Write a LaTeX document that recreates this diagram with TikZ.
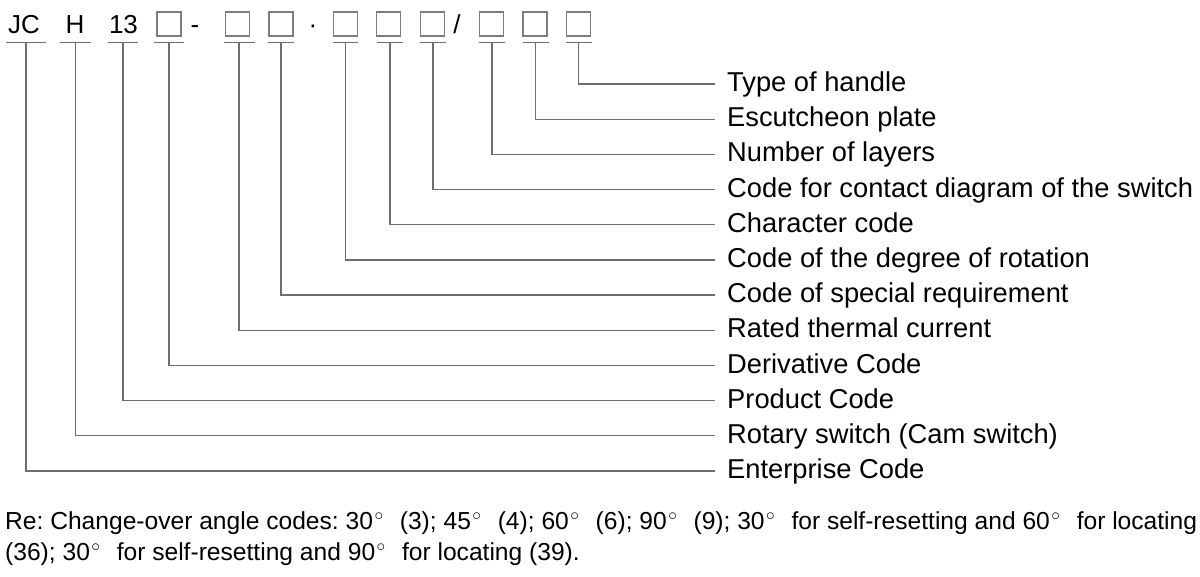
\documentclass[tikz,border=0pt]{standalone}
\usepackage{fontspec}
\setmainfont{Liberation Sans}
\definecolor{lnclr}{RGB}{110,110,110}
\definecolor{bxclr}{RGB}{125,125,125}
\frenchspacing
\newcommand\mydeg{\hspace{1.5pt}$^\circ$\ \ \hspace{2.5pt}}
\begin{document}
\begin{tikzpicture}[x=1pt,y=-1pt,
  lineclr/.style={draw=lnclr, line width=1.3pt},
  codebox/.style={draw=bxclr, line width=1.1pt, minimum size=24pt, inner sep=0pt},
  toptext/.style={font=\fontsize{26}{30}\selectfont, inner sep=0pt, anchor=base},
  lab/.style={font=\fontsize{27.3}{32}\selectfont, inner sep=0pt, anchor=west, text height=20pt, text depth=5pt},
  note/.style={font=\fontsize{24.6}{31.3}\selectfont, inner sep=0pt, anchor=north west, align=left}]
\useasboundingbox (0,0) rectangle (1200,576);
% top row
\node[toptext] (jc) at (24,33) {JC};
\node[toptext] (h) at (75,33) {H};
\node[toptext] (n13) at (123.5,33) {13};
\node[codebox] (b1) at (169,24) {};
\node[toptext] (dash) at (195,33) {-};
\node[codebox] (b2) at (237.5,24) {};
\node[codebox] (b3) at (281,24) {};
\node[toptext] (dot) at (313,33) {·};
\node[codebox] (b4) at (345.5,24) {};
\node[codebox] (b5) at (388.5,24) {};
\node[codebox] (b6) at (432.5,24) {};
\node[toptext] (slash) at (457,33) {/};
\node[codebox] (b7) at (491.5,24) {};
\node[codebox] (b8) at (535,24) {};
\node[codebox] (b9) at (578.5,24) {};
% underline coordinates
\foreach \nm/\xc/\hw in {jc/26/20, h/75.5/15.5, n13/123/15, b1/169/15, b2/239/15.5, b3/281/13, b4/345.5/12.5, b5/390/13, b6/433/13, b7/492/13, b8/535.5/13, b9/578.5/13}{
  \coordinate (u\nm) at (\xc,42.5);
  \draw[lineclr] (\xc-\hw,42.5) -- (\xc+\hw,42.5);
}
% labels
\foreach \nm/\yy/\txt in {
  b9/84/{Type of handle},
  b8/119.2/{Escutcheon plate},
  b7/154.4/{Number of layers},
  b6/189.5/{Code for contact diagram of the switch},
  b5/224.7/{Character code},
  b4/259.9/{Code of the degree of rotation},
  b3/295.1/{Code of special requirement},
  b2/330.3/{Rated thermal current},
  b1/365.5/{Derivative Code},
  n13/400.6/{Product Code},
  h/435.8/{Rotary switch (Cam switch)},
  jc/471/{Enterprise Code}}{
  \node[lab] (l\nm) at (727,\yy) {\txt};
  \draw[lineclr] (u\nm) |- ([xshift=-12pt]l\nm.west);
}
% note
\node[note] (re) at (5,511) {Re: Change-over angle codes: 30\mydeg(3); 45\mydeg(4); 60\mydeg(6); 90\mydeg(9); 30\mydeg for self-resetting and 60\mydeg for locating\\(36); 30\mydeg for self-resetting and 90\mydeg for locating (39).};
\end{tikzpicture}
\end{document}
